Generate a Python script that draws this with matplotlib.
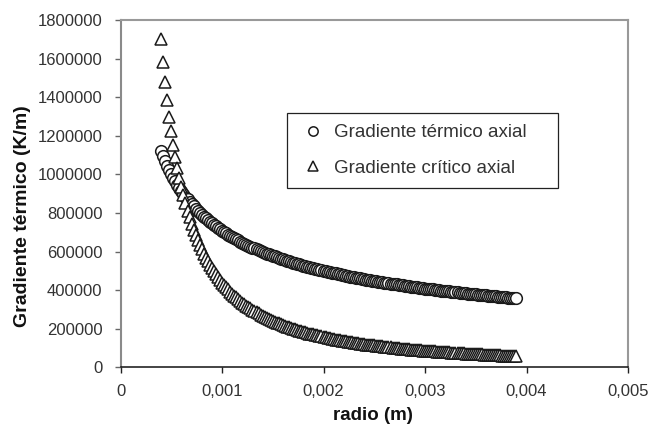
import matplotlib
matplotlib.use('Agg')
import matplotlib.pyplot as plt

plt.rcParams['font.family'] = ['Liberation Sans', 'DejaVu Sans']

# radio (m)
radio = [
    0.00040, 0.00042, 0.00044, 0.00046, 0.00048, 0.00050, 0.00052, 0.00054, 0.00056, 0.00058,
    0.00060, 0.00062, 0.00064, 0.00066, 0.00068, 0.00070, 0.00072, 0.00074, 0.00076, 0.00078,
    0.00080, 0.00082, 0.00084, 0.00086, 0.00088, 0.00090, 0.00092, 0.00094, 0.00096, 0.00098,
    0.00100, 0.00102, 0.00104, 0.00106, 0.00108, 0.00110, 0.00112, 0.00114, 0.00116, 0.00118,
    0.00120, 0.00122, 0.00124, 0.00126, 0.00128, 0.00130, 0.00132, 0.00134, 0.00136, 0.00138,
    0.00140, 0.00142, 0.00144, 0.00146, 0.00148, 0.00150, 0.00152, 0.00154, 0.00156, 0.00158,
    0.00160, 0.00162, 0.00164, 0.00166, 0.00168, 0.00170, 0.00172, 0.00174, 0.00176, 0.00178,
    0.00180, 0.00182, 0.00184, 0.00186, 0.00188, 0.00190, 0.00192, 0.00194, 0.00196, 0.00198,
    0.00200, 0.00202, 0.00204, 0.00206, 0.00208, 0.00210, 0.00212, 0.00214, 0.00216, 0.00218,
    0.00220, 0.00222, 0.00224, 0.00226, 0.00228, 0.00230, 0.00232, 0.00234, 0.00236, 0.00238,
    0.00240, 0.00242, 0.00244, 0.00246, 0.00248, 0.00250, 0.00252, 0.00254, 0.00256, 0.00258,
    0.00260, 0.00262, 0.00264, 0.00266, 0.00268, 0.00270, 0.00272, 0.00274, 0.00276, 0.00278,
    0.00280, 0.00282, 0.00284, 0.00286, 0.00288, 0.00290, 0.00292, 0.00294, 0.00296, 0.00298,
    0.00300, 0.00302, 0.00304, 0.00306, 0.00308, 0.00310, 0.00312, 0.00314, 0.00316, 0.00318,
    0.00320, 0.00322, 0.00324, 0.00326, 0.00328, 0.00330, 0.00332, 0.00334, 0.00336, 0.00338,
    0.00340, 0.00342, 0.00344, 0.00346, 0.00348, 0.00350, 0.00352, 0.00354, 0.00356, 0.00358,
    0.00360, 0.00362, 0.00364, 0.00366, 0.00368, 0.00370, 0.00372, 0.00374, 0.00376, 0.00378,
    0.00380, 0.00382, 0.00384, 0.00386, 0.00388, 0.00390,
]

# Gradiente termico axial (K/m)
grad_termico = [
    1120000, 1093000, 1068000, 1044000, 1022000, 1002000, 982000, 964000, 947000, 930000,
    914000, 900000, 885000, 872000, 859000, 847000, 835000, 823000, 813000, 802000,
    792000, 782000, 773000, 764000, 755000, 747000, 739000, 731000, 723000, 716000,
    708000, 701000, 695000, 688000, 682000, 675000, 669000, 663000, 658000, 652000,
    647000, 641000, 636000, 631000, 626000, 621000, 617000, 612000, 607000, 603000,
    599000, 594000, 590000, 586000, 582000, 578000, 575000, 571000, 567000, 564000,
    560000, 557000, 553000, 550000, 547000, 543000, 540000, 537000, 534000, 531000,
    528000, 525000, 522000, 519000, 517000, 514000, 511000, 509000, 506000, 503000,
    501000, 498000, 496000, 494000, 491000, 489000, 487000, 484000, 482000, 480000,
    478000, 475000, 473000, 471000, 469000, 467000, 465000, 463000, 461000, 459000,
    457000, 455000, 453000, 452000, 450000, 448000, 446000, 444000, 443000, 441000,
    439000, 438000, 436000, 434000, 433000, 431000, 430000, 428000, 426000, 425000,
    423000, 422000, 420000, 419000, 417000, 416000, 415000, 413000, 412000, 410000,
    409000, 408000, 406000, 405000, 404000, 402000, 401000, 400000, 398000, 397000,
    396000, 395000, 394000, 392000, 391000, 390000, 389000, 388000, 386000, 385000,
    384000, 383000, 382000, 381000, 380000, 379000, 378000, 376000, 375000, 374000,
    373000, 372000, 371000, 370000, 369000, 368000, 367000, 366000, 365000, 364000,
    363000, 362000, 361000, 360000, 360000, 359000,
]

# Gradiente critico axial (K/m)
grad_critico = [
    1700000, 1582000, 1477000, 1383000, 1299000, 1223000, 1154000, 1092000, 1035000, 983000,
    935000, 891000, 850000, 812000, 777000, 745000, 714000, 686000, 660000, 635000,
    612000, 590000, 569000, 550000, 531000, 514000, 498000, 482000, 467000, 453000,
    440000, 427000, 415000, 404000, 393000, 382000, 372000, 363000, 354000, 345000,
    336000, 328000, 320000, 313000, 306000, 299000, 292000, 286000, 280000, 274000,
    268000, 262000, 257000, 252000, 247000, 242000, 237000, 233000, 228000, 224000,
    220000, 216000, 212000, 208000, 205000, 201000, 198000, 194000, 191000, 188000,
    185000, 182000, 179000, 176000, 173000, 171000, 168000, 166000, 163000, 161000,
    158000, 156000, 154000, 152000, 149000, 147000, 145000, 143000, 141000, 139000,
    138000, 136000, 134000, 132000, 130000, 129000, 127000, 126000, 124000, 122000,
    121000, 119000, 118000, 117000, 115000, 114000, 113000, 111000, 110000, 109000,
    107000, 106000, 105000, 104000, 103000, 102000, 101000, 99000, 98000, 97000,
    96000, 95000, 94000, 93000, 92000, 91000, 91000, 90000, 89000, 88000,
    87000, 86000, 85000, 85000, 84000, 83000, 82000, 81000, 81000, 80000,
    79000, 78000, 78000, 77000, 76000, 76000, 75000, 74000, 74000, 73000,
    72000, 72000, 71000, 71000, 70000, 69000, 69000, 68000, 68000, 67000,
    67000, 66000, 65000, 65000, 64000, 64000, 63000, 63000, 62000, 62000,
    61000, 61000, 60000, 60000, 60000, 59000,
]

x_ticks = [0, 0.001, 0.002, 0.003, 0.004, 0.005]
x_tick_labels = ['0', '0,001', '0,002', '0,003', '0,004', '0,005']
y_ticks = [0, 200000, 400000, 600000, 800000, 1000000, 1200000, 1400000, 1600000, 1800000]
y_tick_labels = [str(v) for v in y_ticks]

fig = plt.figure(figsize=(6.5, 4.25), dpi=100)
ax = fig.add_axes([0.1854, 0.1353, 0.7808, 0.8177])

ax.plot(radio, grad_termico, linestyle='none', marker='o', markersize=8.4,
        markerfacecolor='white', markeredgecolor='#1a1a1a', markeredgewidth=1.1,
        label='Gradiente térmico axial')
ax.plot(radio, grad_critico, linestyle='none', marker='^', markersize=9,
        markerfacecolor='white', markeredgecolor='#1a1a1a', markeredgewidth=1.1,
        label='Gradiente crítico axial')

ax.set_xlim(0, 0.005)
ax.set_ylim(0, 1800000)
ax.set_xticks(x_ticks)
ax.set_xticklabels(x_tick_labels)
ax.set_yticks(y_ticks)
ax.set_yticklabels(y_tick_labels)

ax.tick_params(axis='x', direction='out', length=4, width=1, color='#222222',
               labelsize=12, labelcolor='#333333', pad=8)
ax.tick_params(axis='y', direction='out', length=4, width=1, color='#666666',
               labelsize=12, labelcolor='#333333', pad=9)

ax.spines['left'].set_color('#8a8a8a')
ax.spines['left'].set_linewidth(1.5)
ax.spines['bottom'].set_color('#111111')
ax.spines['bottom'].set_linewidth(1.1)
for side in ('top', 'right'):
    ax.spines[side].set_color('#999999')
    ax.spines[side].set_linewidth(1.5)

fig.text(0.574, 0.022, 'radio (m)', fontsize=13.5, fontweight='bold',
         ha='center', va='center', color='#111111')
fig.text(0.034, 0.492, 'Gradiente térmico (K/m)', fontsize=14, fontweight='bold',
         rotation=90, ha='center', va='center', color='#111111')

leg = ax.legend(loc='upper left', bbox_to_anchor=(0.328, 0.525, 0.534, 0.207),
                mode='expand', fontsize=13.5,
                frameon=True, fancybox=False, edgecolor='#222222', framealpha=1,
                handlelength=1.6, handletextpad=0.3, borderpad=0.6,
                labelspacing=0.96, markerscale=0.8, borderaxespad=0)
leg.get_frame().set_linewidth(0.9)
for t in leg.get_texts():
    t.set_color('#333333')

fig.savefig('out.png', dpi=100, facecolor='white')
